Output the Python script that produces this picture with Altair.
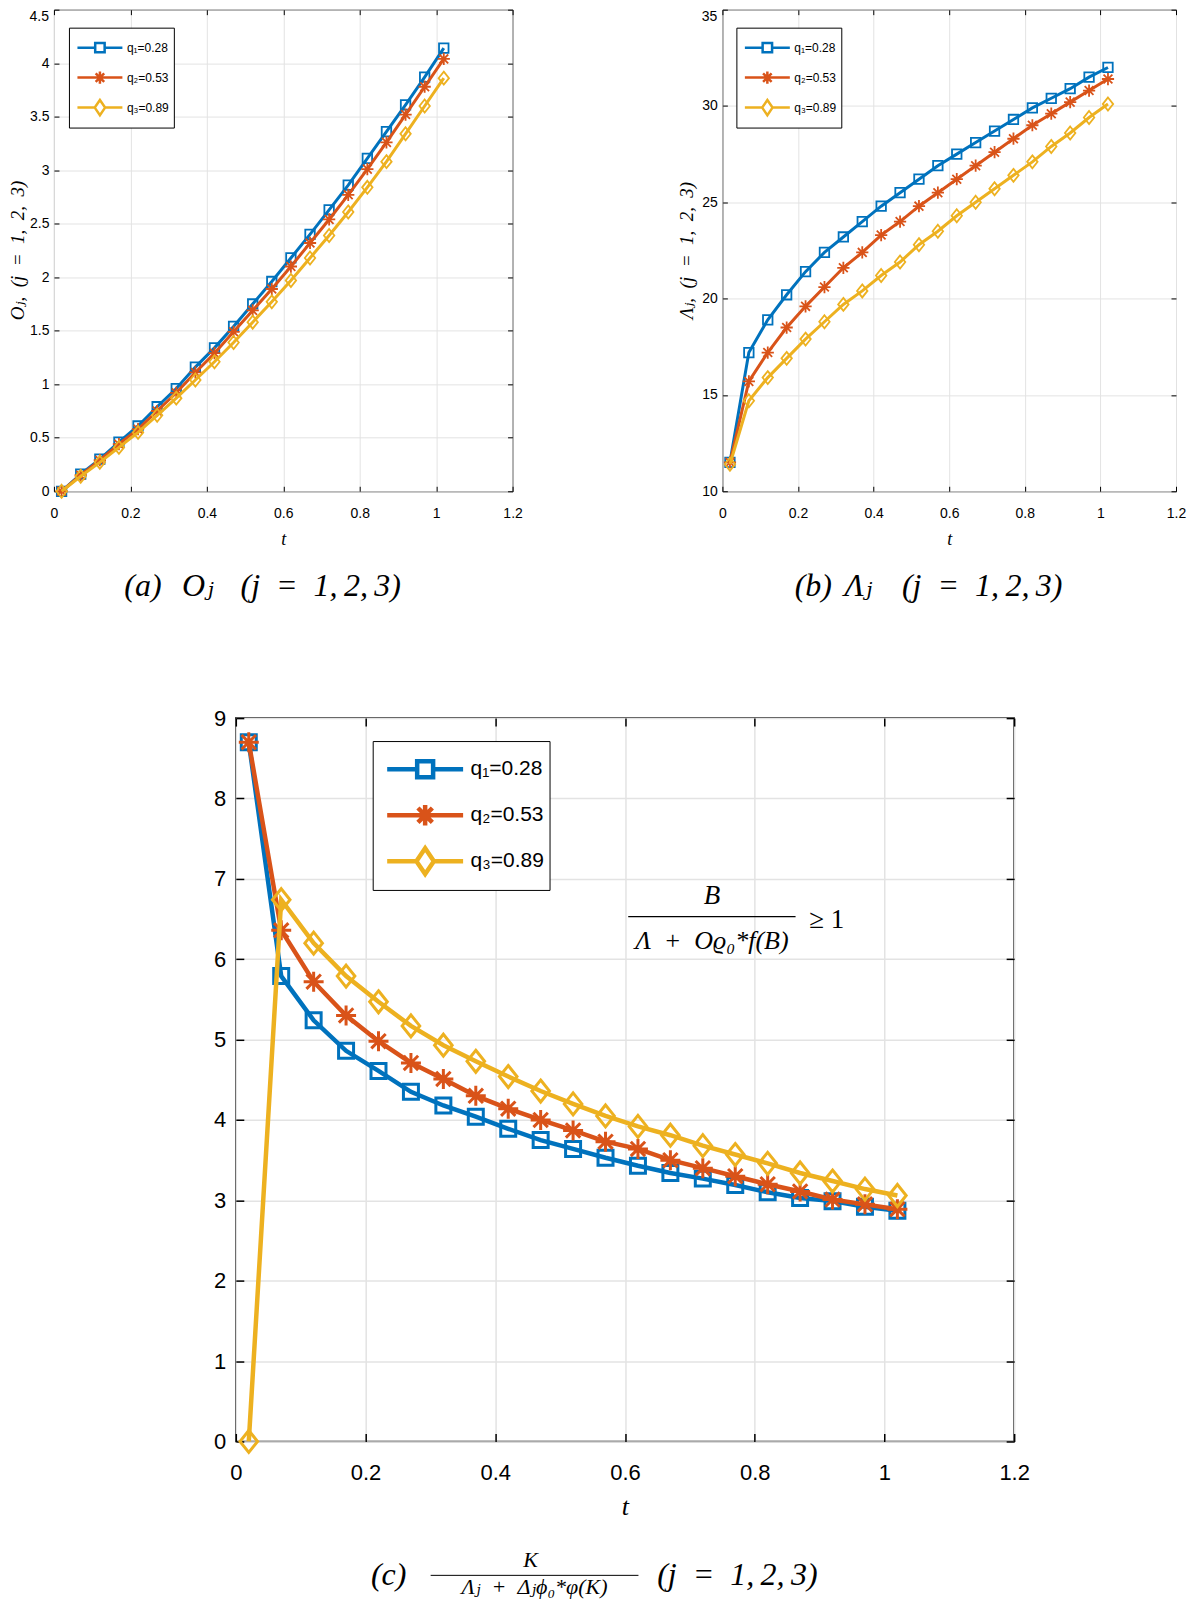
import altair as alt
import pandas as pd

# ---------------- data ----------------
T = [0.02, 0.07, 0.12, 0.17, 0.22, 0.27, 0.32, 0.37, 0.42, 0.47, 0.52,
     0.57, 0.62, 0.67, 0.72, 0.77, 0.82, 0.87, 0.92, 0.97, 1.02]
LABELS = ["q₁=0.28", "q₂=0.53", "q₃=0.89"]
COLORS = ["#0072BD", "#D95319", "#EDB120"]

A_Q1 = [0.0, 0.16, 0.30, 0.46, 0.61, 0.79, 0.96, 1.16, 1.34, 1.54, 1.75,
        1.96, 2.18, 2.40, 2.63, 2.86, 3.11, 3.36, 3.61, 3.87, 4.14]
A_Q2 = [0.0, 0.15, 0.29, 0.44, 0.58, 0.75, 0.92, 1.11, 1.29, 1.49, 1.69,
        1.89, 2.10, 2.32, 2.54, 2.77, 3.01, 3.26, 3.52, 3.78, 4.04]
A_Q3 = [0.0, 0.14, 0.27, 0.41, 0.55, 0.71, 0.87, 1.04, 1.21, 1.39, 1.58,
        1.77, 1.97, 2.18, 2.39, 2.61, 2.84, 3.08, 3.34, 3.60, 3.86]

B_Q1 = [11.5, 17.2, 18.9, 20.2, 21.4, 22.4, 23.2, 24.0, 24.8, 25.5, 26.2,
        26.9, 27.5, 28.1, 28.7, 29.3, 29.9, 30.4, 30.9, 31.5, 32.0]
B_Q2 = [11.5, 15.7, 17.2, 18.5, 19.6, 20.6, 21.6, 22.4, 23.3, 24.0, 24.8,
        25.5, 26.2, 26.9, 27.6, 28.3, 29.0, 29.6, 30.2, 30.8, 31.4]
B_Q3 = [11.4, 14.7, 15.9, 16.9, 17.9, 18.8, 19.7, 20.4, 21.2, 21.9, 22.8,
        23.5, 24.3, 25.0, 25.7, 26.4, 27.1, 27.9, 28.6, 29.4, 30.1]

C_Q1 = [8.70, 5.79, 5.24, 4.86, 4.61, 4.35, 4.18, 4.04, 3.89, 3.75, 3.64,
        3.53, 3.43, 3.34, 3.27, 3.19, 3.10, 3.03, 2.99, 2.92, 2.87]
C_Q2 = [8.70, 6.36, 5.72, 5.30, 4.98, 4.71, 4.51, 4.30, 4.14, 4.00, 3.87,
        3.73, 3.64, 3.50, 3.40, 3.30, 3.20, 3.11, 3.01, 2.95, 2.89]
C_Q3 = [0.0, 6.74, 6.20, 5.79, 5.47, 5.17, 4.93, 4.73, 4.54, 4.36, 4.20,
        4.05, 3.92, 3.81, 3.68, 3.57, 3.46, 3.34, 3.24, 3.14, 3.06]

X_TICKS = [0, 0.2, 0.4, 0.6, 0.8, 1, 1.2]
A_YTICKS = [0, 0.5, 1, 1.5, 2, 2.5, 3, 3.5, 4, 4.5]
B_YTICKS = [10, 15, 20, 25, 30, 35]
C_YTICKS = [0, 1, 2, 3, 4, 5, 6, 7, 8, 9]

EN = "\u2002"
TH = "\u2009"
JSET = "(j" + EN + "=" + EN + "1," + TH + "2," + TH + "3)"
JSET_WIDE = "(j" + EN + "=" + EN + "1," + EN + "2," + EN + "3)"
CAP_A = ["(a)", "Oⱼ", JSET]
CAP_B = ["(b)", "Λⱼ", JSET]
YT_A = "Oⱼ," + EN + JSET_WIDE
YT_B = "Λⱼ," + EN + JSET_WIDE
CAP_C_LEFT = "(c)"
CAP_C_NUM = "K"
CAP_C_DEN = "Λⱼ" + EN + "+" + EN + "Δⱼϕ₀*φ(K)"
CAP_C_RIGHT = JSET
ANN_NUM = "B"
ANN_DEN = "Λ" + EN + "+" + EN + "Oϱ₀*f(B)"
ANN_REL = "≥ 1"
# annotation anchor values (data coordinates of panel c)
ANN_T = [0.734, 0.734, 0.884]
ANN_V = [6.79, 6.23, 6.49]
ANN_BAR_T = [0.605, 0.863]
ANN_BAR_V = [6.53]

PT_SHAPES = ["square",
             "M-1,0H1M0,-1V1M-0.72,-0.72L0.72,0.72M-0.72,0.72L0.72,-0.72",
             "M0,-1L0.8,0L0,1L-0.8,0Z"]
LEG_SHAPES = ["M-1,0H-0.21M0.21,0H1M-0.21,-0.21H0.21V0.21H-0.21Z",
              "M-1,0H1M0,-0.27V0.27M-0.19,-0.19L0.19,0.19M-0.19,0.19L0.19,-0.19",
              "M-1,0H-0.23M0.23,0H1M0,-0.34L0.23,0L0,0.34L-0.23,0Z"]

SANS = "Liberation Sans, Arial, Helvetica, sans-serif"
SERIF = "Liberation Serif, DejaVu Serif, serif"
GRID = "#e3e3e3"


def long_df(series):
    rows = []
    for lab, vals in zip(LABELS, series):
        for t, v in zip(T, vals):
            rows.append({"t": t, "v": v, "series": lab})
    return pd.DataFrame(rows)


def txt(s, x, y, size, style="italic", font=SERIF, angle=0, align="center",
        baseline="middle"):
    kw = dict(font=font, fontStyle=style, fontSize=size, color="black",
              align=align, baseline=baseline)
    if angle:
        kw["angle"] = angle
    return alt.Chart(pd.DataFrame({"s": [s]})).mark_text(**kw).encode(
        x=alt.value(x), y=alt.value(y), text="s:N")


def anchor(x, y):
    # tiny white layout anchor, fixes the vertical bounds of a panel
    return alt.Chart(pd.DataFrame({"k": [0]})).mark_rule(color="white", strokeWidth=1).encode(
        x=alt.value(x), x2=alt.value(x + 1), y=alt.value(y))


def make_panel(series, ydom, yticks, S):
    df = long_df(series)
    xs = alt.Scale(domain=[0, 1.2], nice=False, zero=False)
    ys = alt.Scale(domain=ydom, nice=False, zero=False)
    tk = S["tick"]
    yaxis_kw = dict(orient="left", values=yticks, format="~g", offset=-tk,
                    tickSize=tk, domain=False, grid=True, gridColor=GRID,
                    gridWidth=S["gw"], tickColor="black", tickWidth=S["tw"],
                    labelFont=SANS, labelFontSize=S["lfs"], labelColor="black",
                    labelPadding=S["ylp"], labelFlush=False, title=None)
    if S.get("ytop") is not None:
        yaxis_kw["labelExpr"] = "datum.value >= %s ? '' : datum.label" % S["ytop"]
    x_main = alt.X("t:Q", scale=xs, axis=alt.Axis(
        orient="bottom", values=X_TICKS, format="~g", offset=-tk, tickSize=tk,
        domain=False, grid=True, gridColor=GRID, gridWidth=S["gw"],
        tickColor="black", tickWidth=S["tw"], labelFont=SANS,
        labelFontSize=S["lfs"], labelColor="black", labelPadding=S["xlp"],
        labelFlush=False, labelOverlap=False,
        title="t", titleFont=SERIF, titleFontStyle="italic",
        titleFontWeight="normal", titleFontSize=S["tfs"], titleColor="black",
        titleY=S["xty"], titleBaseline="alphabetic"))
    y_main = alt.Y("v:Q", scale=ys, axis=alt.Axis(**yaxis_kw))
    x_top = alt.X("t:Q", scale=xs, axis=alt.Axis(
        orient="top", values=X_TICKS, offset=-tk, tickSize=tk, domain=False,
        grid=False, labels=False, title=None, tickColor="black", tickWidth=S["tw"]))
    y_right = alt.Y("v:Q", scale=ys, axis=alt.Axis(
        orient="right", values=yticks, offset=-tk, tickSize=tk, domain=False,
        grid=False, labels=False, title=None, tickColor="black", tickWidth=S["tw"]))
    x_none = alt.X("t:Q", scale=xs, axis=None)
    y_none = alt.Y("v:Q", scale=ys, axis=None)

    layers = []
    for i, lab in enumerate(LABELS):
        d = df[df.series == lab]
        line = alt.Chart(d).mark_line(color=COLORS[i], strokeWidth=S["lw"]).encode(
            x=x_main if i == 0 else x_none, y=y_main if i == 0 else y_none)
        pts = alt.Chart(d).mark_point(shape=PT_SHAPES[i], size=S["ms"][i], filled=False,
                                      color=COLORS[i], strokeWidth=S["mw"], opacity=1).encode(
            x=x_top if i == 0 else x_none, y=y_right if i == 0 else y_none)
        layers += [line, pts]

    leg_kw = dict(orient="none", legendX=S["legx"], legendY=S["legy"], title=None,
                  padding=S["lpad"], strokeColor="black", fillColor="white",
                  cornerRadius=0, symbolSize=S["lsize"], symbolStrokeWidth=S["lsw"],
                  symbolOffset=S["lsoff"], labelOffset=S["lloff"],
                  clipHeight=S["lclip"], rowPadding=S["lrow"], labelFont=SANS,
                  labelFontSize=S["llfs"], labelColor="black",
                  symbolFillColor="transparent")
    leg = alt.Chart(df).transform_filter("false").mark_point(filled=False, opacity=1).encode(
        color=alt.Color("series:N", scale=alt.Scale(domain=LABELS, range=COLORS),
                        legend=alt.Legend(**leg_kw)),
        shape=alt.Shape("series:N", scale=alt.Scale(domain=LABELS, range=LEG_SHAPES),
                        legend=alt.Legend(**leg_kw)))
    layers.append(leg)
    if S.get("ytop") is not None:
        # top tick label, flush with the top edge of the box
        layers.append(txt("%g" % yticks[-1], -S["ylp"], 0, S["lfs"], style="normal",
                          font=SANS, align="right", baseline="top"))
    if S.get("ytitle"):
        layers.append(txt(S["ytitle"], S["ytx"], 241, S["ytfs"], angle=270))
    return layers, xs, ys


SA = dict(tick=5, lfs=14, xlp=15, ylp=5, tfs=18, xty=58, ytitle=YT_A, ytfs=19,
          ytx=-36, ytop=4.4, lw=3, mw=1.8, ms=[90, 150, 170], gw=1, tw=1,
          legx=15, legy=18, lpad=5, lsize=2025, lsw=2.5, lsoff=2, lloff=3,
          lclip=30, lrow=0, llfs=12)
SB = dict(SA, ytitle=YT_B, ytx=-35, ytop=34, legx=14)
SC = dict(tick=8, lfs=22, xlp=21, ylp=10, tfs=26, xty=81, ytitle=None,
          ytop=None, lw=4.5, mw=3, ms=[225, 400, 484], gw=1.5, tw=1.5,
          legx=137, legy=23, lpad=5.5, lsize=5776, lsw=4.5, lsoff=6.5, lloff=5,
          lclip=45.5, lrow=0, llfs=21)

CAP_FS = 32

la, _, _ = make_panel([A_Q1, A_Q2, A_Q3], [0, 4.5], A_YTICKS, SA)
la += [txt(CAP_A[0], 89, 577, CAP_FS), txt(CAP_A[1], 144, 577, CAP_FS),
       txt(CAP_A[2], 267, 577, CAP_FS), anchor(100, 610)]
pa = alt.layer(*la).properties(width=459, height=482)

lb, _, _ = make_panel([B_Q1, B_Q2, B_Q3], [10, 35], B_YTICKS, SB)
lb += [txt(CAP_B[0], 91, 577, CAP_FS), txt(CAP_B[1], 136, 577, CAP_FS),
       txt(CAP_B[2], 260, 577, CAP_FS)]
pb = alt.layer(*lb).properties(width=454, height=482)

lc, xs_c, ys_c = make_panel([C_Q1, C_Q2, C_Q3], [0, 9], C_YTICKS, SC)
ann = pd.DataFrame({"t": ANN_T, "v": ANN_V, "s": [ANN_NUM, ANN_DEN, ANN_REL]})
lc.append(alt.Chart(ann.iloc[[0]]).mark_text(font=SERIF, fontStyle="italic", fontSize=27,
                                             color="black", baseline="middle").encode(
    x=alt.X("t:Q", scale=xs_c, axis=None), y=alt.Y("v:Q", scale=ys_c, axis=None), text="s:N"))
lc.append(alt.Chart(ann.iloc[[1]]).mark_text(font=SERIF, fontStyle="italic", fontSize=26,
                                             color="black", baseline="middle").encode(
    x=alt.X("t:Q", scale=xs_c, axis=None), y=alt.Y("v:Q", scale=ys_c, axis=None), text="s:N"))
lc.append(alt.Chart(ann.iloc[[2]]).mark_text(font=SERIF, fontSize=27, color="black",
                                             align="left", baseline="middle").encode(
    x=alt.X("t:Q", scale=xs_c, axis=None), y=alt.Y("v:Q", scale=ys_c, axis=None), text="s:N"))
bar = pd.DataFrame({"t0": [ANN_BAR_T[0]], "t1": [ANN_BAR_T[1]], "v": ANN_BAR_V})
lc.append(alt.Chart(bar).mark_rule(color="black", strokeWidth=1.2).encode(
    x=alt.X("t0:Q", scale=xs_c, axis=None), x2="t1:Q",
    y=alt.Y("v:Q", scale=ys_c, axis=None)))
lc.append(txt(CAP_C_LEFT, 153, 858, CAP_FS))
lc.append(txt(CAP_C_NUM, 295, 843, 22))
lc.append(txt(CAP_C_DEN, 299, 870, 22))
lc.append(alt.Chart(pd.DataFrame({"k": [0]})).mark_rule(color="black", strokeWidth=1).encode(
    x=alt.value(195), x2=alt.value(403), y=alt.value(858)))
lc.append(txt(CAP_C_RIGHT, 502, 858, CAP_FS))
lc.append(anchor(100, -30))
pc = alt.layer(*lc).properties(width=779, height=724,
                               view=alt.ViewBackground(stroke="black", strokeWidth=1.5))

spacer = alt.Chart(pd.DataFrame({"t": [0]})).mark_point(opacity=0, size=1).encode(
    x=alt.X("t:Q", axis=None), y=alt.Y("t:Q", axis=None)).properties(
    width=1, height=1, view=alt.ViewBackground(stroke="transparent"))

row1 = alt.hconcat(pa, pb, spacing=210, bounds="flush").resolve_scale(
    color="independent", shape="independent").resolve_legend(
    color="independent", shape="independent")
row2 = alt.hconcat(spacer, pc, spacing=181, bounds="flush").resolve_scale(
    color="independent", shape="independent").resolve_legend(
    color="independent", shape="independent")
chart = alt.vconcat(row1, row2, spacing=66).resolve_scale(
    color="independent", shape="independent").resolve_legend(
    color="independent", shape="independent").properties(
    padding={"left": 0, "top": 0, "right": 0, "bottom": 0}
).configure_view(stroke="black", strokeWidth=1)

chart.save("out.html", embed_options={"renderer": "svg", "actions": False})
